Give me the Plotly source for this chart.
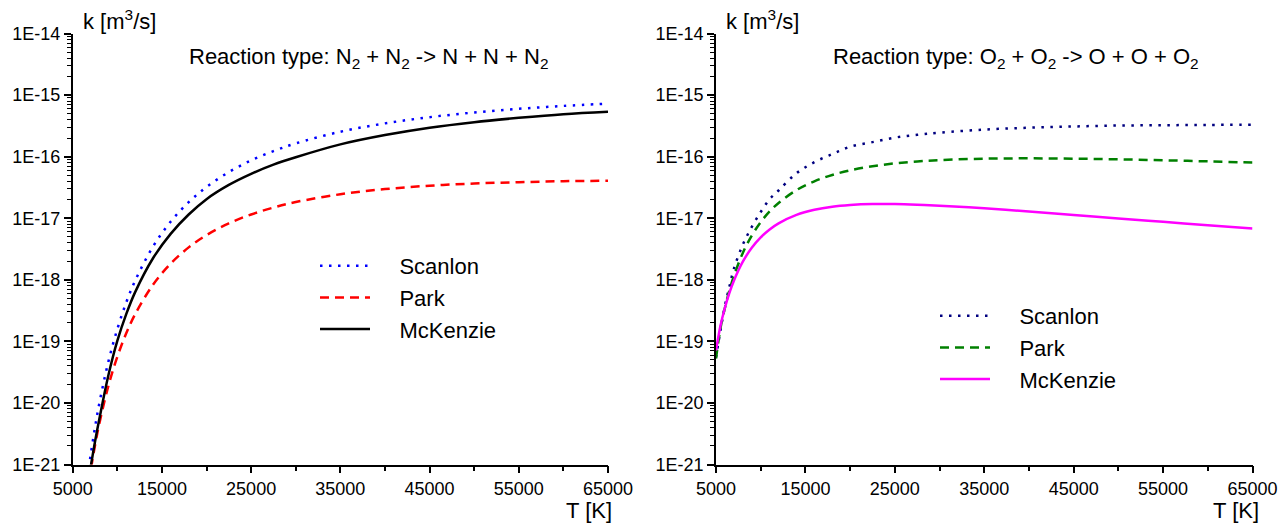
import plotly.graph_objects as go

# ---------------- data ----------------
T_N2 = [6800, 7000, 7500, 8000, 9000, 10000, 11000, 12000, 14000, 16000, 18000, 20000,
        22500, 25000, 27500, 30000, 35000, 40000, 45000, 50000, 55000, 60000, 65000]
k_N2_scanlon = [8.7e-22, 1.38e-21, 4.00e-21, 1.01e-20, 4.69e-20, 1.58e-19, 4.28e-19, 9.68e-19,
                3.46e-18, 8.87e-18, 1.82e-17, 3.21e-17, 5.61e-17, 8.69e-17, 1.23e-16,
                1.64e-16, 2.54e-16, 3.47e-16, 4.38e-16, 5.21e-16, 5.98e-16, 6.67e-16, 7.26e-16]
k_N2_park = [5.05e-22, 7.76e-22, 2.04e-21, 4.73e-21, 1.89e-20, 5.61e-20, 1.35e-19, 2.76e-19,
             8.30e-19, 1.84e-18, 3.36e-18, 5.31e-18, 8.25e-18, 1.15e-17, 1.49e-17,
             1.83e-17, 2.45e-17, 2.97e-17, 3.37e-17, 3.66e-17, 3.85e-17, 3.99e-17, 4.06e-17]
k_N2_mckenzie = [6.3e-22, 8.9e-22, 2.34e-21, 5.62e-21, 2.82e-20, 1.02e-19, 2.77e-19, 6.31e-19,
                 2.24e-18, 5.62e-18, 1.15e-17, 2.04e-17, 3.47e-17, 5.25e-17, 7.41e-17,
                 9.77e-17, 1.58e-16, 2.24e-16, 2.95e-16, 3.63e-16, 4.27e-16, 4.90e-16, 5.37e-16]

T_O2 = [5000, 5500, 6000, 6500, 7000, 8000, 9000, 10000, 11000, 12000, 14000, 16000, 18000,
        20000, 22500, 25000, 27500, 30000, 35000, 40000, 45000, 50000, 55000, 60000, 65000]
k_O2_scanlon = [5.5e-20, 1.51e-19, 3.80e-19, 7.76e-19, 1.51e-18, 3.72e-18, 7.24e-18, 1.26e-17,
                2.04e-17, 2.82e-17, 5.37e-17, 8.13e-17, 1.10e-16, 1.45e-16, 1.72e-16, 2.04e-16,
                2.26e-16, 2.45e-16, 2.75e-16, 2.95e-16, 3.09e-16, 3.20e-16, 3.24e-16, 3.27e-16,
                3.31e-16]
k_O2_park = [5.25e-20, 1.63e-19, 3.52e-19, 6.70e-19, 1.15e-18, 2.73e-18, 5.22e-18, 8.65e-18,
             1.29e-17, 1.77e-17, 2.86e-17, 3.98e-17, 5.04e-17, 5.99e-17, 6.98e-17, 7.77e-17,
             8.36e-17, 8.79e-17, 9.26e-17, 9.38e-17, 9.27e-17, 9.04e-17, 8.73e-17, 8.38e-17,
             8.02e-17]
k_O2_mckenzie = [7.1e-20, 1.80e-19, 3.52e-19, 6.11e-19, 9.66e-19, 1.97e-18, 3.31e-18, 4.89e-18,
                 6.56e-18, 8.24e-18, 1.13e-17, 1.37e-17, 1.54e-17, 1.64e-17, 1.70e-17, 1.70e-17,
                 1.66e-17, 1.60e-17, 1.45e-17, 1.28e-17, 1.13e-17, 9.91e-18, 8.73e-18, 7.69e-18,
                 6.81e-18]

series_names = ["Scanlon", "Park", "McKenzie"]
x_tick_vals = [5000, 15000, 25000, 35000, 45000, 55000, 65000]
x_tick_text = ["5000", "15000", "25000", "35000", "45000", "55000", "65000"]
y_exponents = [-21, -20, -19, -18, -17, -16, -15, -14]
y_tick_text = ["1E-21", "1E-20", "1E-19", "1E-18", "1E-17", "1E-16", "1E-15", "1E-14"]
title_left = "Reaction type: N<sub>2</sub> + N<sub>2</sub> -> N + N + N<sub>2</sub>"
title_right = "Reaction type: O<sub>2</sub> + O<sub>2</sub> -> O + O + O<sub>2</sub>"
y_label = "k [m<sup>3</sup>/s]"
x_label = "T [K]"

# ---------------- figure ----------------
W, H = 1279, 524
def px(x):
    return x / W
def py(y):
    return 1 - y / H

FONT = "Liberation Sans, Arial, sans-serif"
DOT = "2.5px,6.5px"
DASH = "9px,6px"
PAD = "\u00a0\u00a0\u00a0\u00a0"  # gap between legend sample and label

fig = go.Figure()
left_styles = [("#0000FF", DOT, 2.5), ("#FF0000", DASH, 2.5), ("#000000", "solid", 2.5)]
right_styles = [("#000080", DOT, 2.5), ("#008000", DASH, 2.5), ("#FF00FF", "solid", 2.5)]

for name, ys, (c, d, w) in zip(series_names, [k_N2_scanlon, k_N2_park, k_N2_mckenzie], left_styles):
    fig.add_trace(go.Scatter(x=T_N2, y=ys, name=PAD + name, mode="lines",
                             line=dict(color=c, dash=d, width=w, shape="spline", smoothing=1.0),
                             xaxis="x", yaxis="y", legend="legend"))
for name, ys, (c, d, w) in zip(series_names, [k_O2_scanlon, k_O2_park, k_O2_mckenzie], right_styles):
    fig.add_trace(go.Scatter(x=T_O2, y=ys, name=PAD + name, mode="lines",
                             line=dict(color=c, dash=d, width=w, shape="spline", smoothing=1.0),
                             xaxis="x2", yaxis="y2", legend="legend2"))

minor_y = [m * 10.0 ** e for e in range(-21, -14) for m in range(2, 10)]
y_tick_vals = [10.0 ** e for e in y_exponents]

def xaxis_cfg(domain, anchor):
    return dict(domain=domain, anchor=anchor, range=[5000, 65000], showgrid=False, zeroline=False,
                automargin=False,
                showline=True, linecolor="black", linewidth=1.5, mirror=False,
                ticks="outside", ticklen=7, tickwidth=1.5, tickcolor="black",
                tickmode="array", tickvals=x_tick_vals, ticktext=x_tick_text,
                tickfont=dict(size=18, color="black", family=FONT),
                minor=dict(ticks="outside", ticklen=5, tickwidth=1.5, tickcolor="black",
                           tick0=10000, dtick=10000, showgrid=False))

def yaxis_cfg(domain, anchor):
    return dict(domain=domain, anchor=anchor, type="log", range=[-21, -14], showgrid=False,
                zeroline=False, automargin=False,
                showline=True, linecolor="black", linewidth=1.5,
                ticks="outside", ticklen=7, tickwidth=1.5, tickcolor="black",
                tickmode="array", tickvals=y_tick_vals, ticktext=y_tick_text,
                tickfont=dict(size=18, color="black", family=FONT),
                minor=dict(ticks="outside", ticklen=4, tickwidth=1, tickcolor="black",
                           tickmode="array", tickvals=minor_y, showgrid=False))

ydom = [py(464.5), py(33.5)]
fig.update_layout(
    width=W, height=H, margin=dict(l=0, r=0, t=0, b=0, pad=0, autoexpand=False),
    paper_bgcolor="white", plot_bgcolor="white",
    font=dict(family=FONT, size=22, color="black"),
    xaxis=xaxis_cfg([px(72.7), px(608)], "y"),
    yaxis=yaxis_cfg(ydom, "x"),
    xaxis2=xaxis_cfg([px(716), px(1252.5)], "y2"),
    yaxis2=yaxis_cfg(ydom, "x2"),
    legend=dict(x=px(315), y=py(245), xanchor="left", yanchor="top", bgcolor="rgba(0,0,0,0)",
                font=dict(size=22, family=FONT), itemwidth=50, tracegroupgap=0),
    legend2=dict(x=px(935), y=py(295), xanchor="left", yanchor="top", bgcolor="rgba(0,0,0,0)",
                 font=dict(size=22, family=FONT), itemwidth=50, tracegroupgap=0),
    showlegend=True,
)

ann = [
    dict(text=y_label, x=px(81), y=py(20), xanchor="left", yanchor="middle"),
    dict(text=y_label, x=px(724), y=py(20), xanchor="left", yanchor="middle"),
    dict(text=title_left, x=px(369), y=py(58), xanchor="center", yanchor="middle"),
    dict(text=title_right, x=px(1016), y=py(58), xanchor="center", yanchor="middle"),
    dict(text=x_label, x=px(614), y=py(510), xanchor="right", yanchor="middle"),
    dict(text=x_label, x=px(1261), y=py(510), xanchor="right", yanchor="middle"),
]
for a in ann:
    fig.add_annotation(xref="paper", yref="paper", showarrow=False,
                       font=dict(size=22, color="black", family=FONT), **a)

fig.write_html("out.html")
